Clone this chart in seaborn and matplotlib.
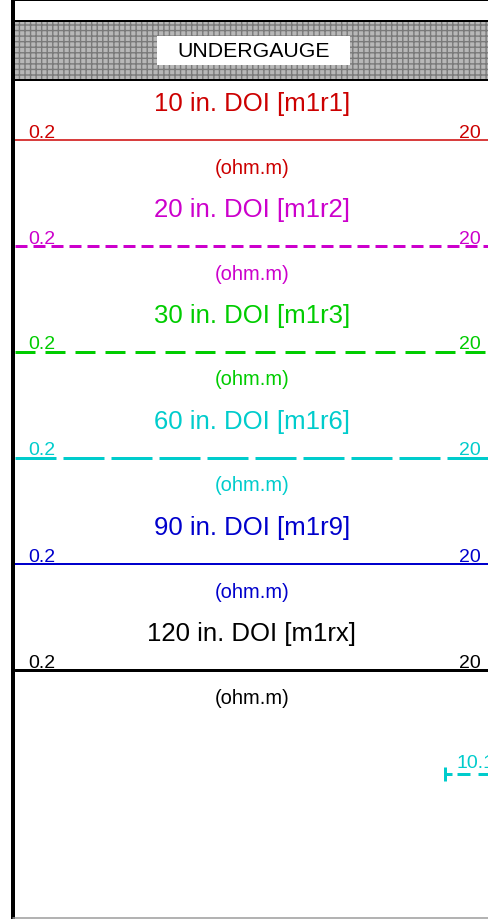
import matplotlib
matplotlib.use("Agg")
import matplotlib.pyplot as plt
import matplotlib.transforms as mtransforms
from matplotlib.patches import Rectangle
import seaborn as sns

# Header content of the resistivity track
curve_names = ["10 in. DOI [m1r1]", "20 in. DOI [m1r2]", "30 in. DOI [m1r3]",
               "60 in. DOI [m1r6]", "90 in. DOI [m1r9]", "120 in. DOI [m1rx]"]
curve_colors = ["#cc0000", "#cc00cc", "#00cc00", "#00cccc", "#0000cc", "#000000"]
scale_left = [0.2, 0.2, 0.2, 0.2, 0.2, 0.2]
scale_right = [20, 20, 20, 20, 20, 20]
curve_units = ["(ohm.m)"] * 6
flag_label = "UNDERGAUGE"
marker_value = "10.1"

# line styles (on/off in pixels, None = solid) and widths in px
line_dashes = [None, (12, 6), (20, 10), (41, 7), None, None]
line_widths = [1.5, 3, 3, 3, 2, 3]

sns.set_style("white")
plt.rcParams["font.family"] = ["Liberation Sans", "DejaVu Sans"]
plt.rcParams["lines.scale_dashes"] = False
plt.rcParams["hatch.linewidth"] = 1.0

W, H = 489, 920
PX = 72 / 100  # points per pixel at dpi 100
fig = plt.figure(figsize=(W / 100, H / 100), dpi=100)

# background / frame axes in pixel coordinates
bg = fig.add_axes([0, 0, 1, 1])
bg.set_xlim(0, W)
bg.set_ylim(H, 0)
bg.axis("off")

# frame lines
bg.plot([13, 13], [0, H], color="black", lw=4 * PX, solid_capstyle="butt")
bg.plot([13, W], [1, 1], color="black", lw=2 * PX)
bg.plot([13, W], [918.5, 918.5], color="#9a9a9a", lw=1.5 * PX)

# undergauge band
bg.add_patch(Rectangle((15, 22), W - 15, 59, facecolor="#b8b8b8",
                       edgecolor="#7a7a7a", hatch="+++", lw=0))
bg.plot([13, W], [22, 22], color="black", lw=2 * PX)
bg.plot([13, W], [81, 81], color="black", lw=2 * PX)
bg.add_patch(Rectangle((157, 37), 193, 29, facecolor="white", edgecolor="none"))
bg.text(253.5, 51.5, flag_label, ha="center", va="center", fontsize=15.3, color="black")

# curve headers
track_left = 15
for i, name in enumerate(curve_names):
    line_y = 141 + 106 * i
    ax = fig.add_axes([track_left / W, (H - (line_y + 45)) / H,
                       (W - track_left) / W, 90 / H])
    color = curve_colors[i]
    ls = "-" if line_dashes[i] is None else (0, tuple(d * PX for d in line_dashes[i]))
    sns.lineplot(x=[scale_left[i], scale_right[i]], y=[0, 0], ax=ax, color=color,
                 linewidth=line_widths[i] * PX, linestyle=ls)
    ax.set_xscale("log")
    ax.set_xlim(scale_left[i], scale_right[i])
    ax.set_ylim(45, -45)
    ax.axis("off")
    trans = mtransforms.blended_transform_factory(ax.transAxes, ax.transData)
    ax.text(0.5, -37, name, transform=trans, ha="center", va="center",
            fontsize=18.5, color=color)
    ax.text(0.5, 27, curve_units[i], transform=trans, ha="center", va="center",
            fontsize=14.5, color=color)
    ax.text((28 - track_left) / (W - track_left), -3.5, f"{scale_left[i]:g}",
            transform=trans, ha="left", va="baseline", fontsize=14, color=color)
    ax.text((481 - track_left) / (W - track_left), -3.5, f"{scale_right[i]:g}",
            transform=trans, ha="right", va="baseline", fontsize=14, color=color)

# cyan curve marker entering from the right (clipped at the edge as in the log)
cy = curve_colors[3]
bg.plot([445, 445], [768, 782], color=cy, lw=3 * PX, solid_capstyle="butt")
bg.plot([445, 452], [775, 775], color=cy, lw=3 * PX, solid_capstyle="butt")
bg.plot([457, W], [775, 775], color=cy, lw=3 * PX,
        linestyle=(0, (13 * PX, 8 * PX)))
bg.text(457, 768, marker_value, ha="left", va="baseline", fontsize=14, color=cy)

fig.savefig("out.png", dpi=100)
